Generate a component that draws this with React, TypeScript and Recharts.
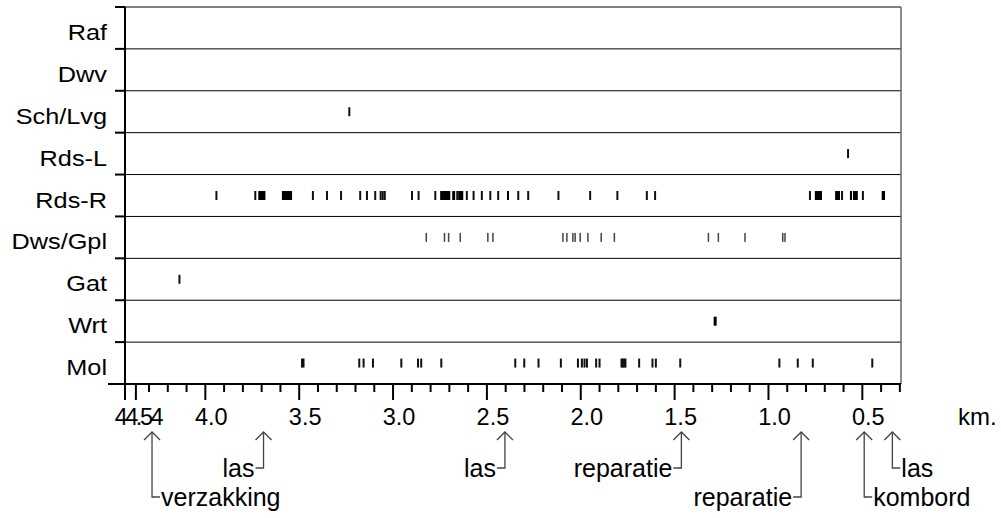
import React from "react";
import {
  ComposedChart,
  XAxis,
  YAxis,
  Scatter,
  ReferenceArea,
  ReferenceLine,
} from "recharts";

// row names, top to bottom
const rowNames = ["Raf", "Dwv", "Sch/Lvg", "Rds-L", "Rds-R", "Dws/Gpl", "Gat", "Wrt", "Mol"];

// single observations (km) per row
const rafMarks: number[] = [];
const dwvMarks: number[] = [];
const schLvgMarks = [3.233];
const rdsLMarks = [0.576];
const rdsRMarks = [
  3.941, 3.734, 3.427, 3.352, 3.277, 3.175, 3.139, 3.095, 3.066, 3.055, 3.044, 2.899, 2.864,
  2.775, 2.658, 2.607, 2.571, 2.527, 2.482, 2.44, 2.333, 2.28, 2.119, 1.95, 1.805, 1.648,
  1.604, 0.779, 0.608, 0.497,
];
const dwsGplMarks = [
  2.823, 2.726, 2.704, 2.642, 2.495, 2.468, 2.095, 2.074, 2.042, 2.03, 2.003, 1.962, 1.891,
  1.821, 1.32, 1.267, 1.125, 0.924, 0.912,
];
const gatMarks = [4.138];
const wrtMarks = [1.284];
const molMarks = [
  3.485, 3.477, 3.18, 3.157, 3.107, 2.956, 2.867, 2.85, 2.743, 2.349, 2.301, 2.225, 2.106,
  2.015, 1.994, 1.98, 1.967, 1.918, 1.9, 1.783, 1.776, 1.769, 1.762, 1.689, 1.618, 1.6, 1.47,
  0.942, 0.844, 0.764, 0.447,
];

// stretches (from, to km) in Rds-R
const rdsRStretches: [number, number][] = [
  [3.718, 3.68],
  [3.592, 3.538],
  [2.749, 2.695],
  [2.685, 2.669],
  [2.653, 2.626],
  [2.393, 2.385],
  [0.753, 0.715],
  [0.645, 0.619],
  [0.566, 0.555],
  [0.55, 0.524],
  [0.397, 0.379],
];

const rowMarks = [rafMarks, dwvMarks, schLvgMarks, rdsLMarks, rdsRMarks, dwsGplMarks, gatMarks, wrtMarks, molMarks];

// x axis ticks
const majorTicks = [4.428, 4.37, 4.0, 3.5, 3.0, 2.5, 2.0, 1.5, 1.0, 0.5];
const majorLabels = ["", "44.54", "4.0", "3.5", "3.0", "2.5", "2.0", "1.5", "1.0", "0.5"];
const minorTicks = [
  4.3, 4.2, 4.1, 3.9, 3.8, 3.7, 3.6, 3.4, 3.3, 3.2, 3.1, 2.9, 2.8, 2.7, 2.6, 2.4, 2.3, 2.2,
  2.1, 1.9, 1.8, 1.7, 1.6, 1.4, 1.3, 1.2, 1.1, 0.9, 0.8, 0.7, 0.6, 0.4, 0.3,
];

// annotations below the axis
const annoKm = [4.284, 3.69, 2.404, 1.464, 0.826, 0.49, 0.34];
const annoText = ["verzakking", "las", "las", "reparatie", "reparatie", "kombord", "las"];
const annoSide = ["right", "left", "left", "left", "left", "right", "right"];
const annoLevel = [2, 1, 1, 1, 2, 2, 1];

const FONT = '"Liberation Sans", Arial, sans-serif';
const MARK_HALF = 0.107; // half height of a mark, in row units

const XTick = (props: any) => {
  const { x, y, payload } = props;
  const idx = majorTicks.indexOf(payload.value);
  const major = idx >= 0;
  const label = major ? majorLabels[idx] : "";
  const squeezed = label === "44.54";
  return (
    <g>
      <line x1={x} x2={x} y1={y} y2={y + (major ? 16 : 8)} stroke="#000" strokeWidth={2} />
      {label && (
        <text
          x={x + (squeezed ? 2 : 6)}
          y={y + 41}
          textAnchor="middle"
          fontSize={23.5}
          fontFamily={FONT}
          letterSpacing={squeezed ? -2.5 : 0}
          fill="#000"
        >
          {label}
        </text>
      )}
    </g>
  );
};

const YTick = (props: any) => {
  const { x, y, payload } = props;
  const v = payload.value;
  if (Number.isInteger(v)) {
    return <line x1={x - (v === 9 ? 17 : 10)} x2={x} y1={y} y2={y} stroke="#000" strokeWidth={2} />;
  }
  return (
    <text
      transform={`translate(${x - 18},${y + 12}) scale(1.15,1)`}
      textAnchor="end"
      fontSize={22}
      fontFamily={FONT}
      fill="#000"
    >
      {rowNames[Math.floor(v)]}
    </text>
  );
};

const tickMark = (color: string, w: number) => (p: any) => (
  <rect x={p.cx - w / 2} y={p.cy - 4.5} width={w} height={9} fill={color} />
);

const stretchShape = (p: any) => (
  <rect x={p.x} y={p.y} width={Math.max(p.width, 2)} height={p.height} fill="#000" />
);

const arrowShape = (i: number) => (p: any) => {
  const x = p.x1;
  const base = Math.max(p.y1, p.y2);
  const tip = base + 48;
  const end = base + (annoLevel[i] === 1 ? 84 : 113);
  const dir = annoSide[i] === "left" ? -1 : 1;
  return (
    <g>
      <polyline
        points={`${x - 8},${tip + 8} ${x},${tip} ${x + 8},${tip + 8}`}
        fill="none"
        stroke="#444"
        strokeWidth={1.3}
      />
      <polyline
        points={`${x},${tip} ${x},${end} ${x + dir * 8},${end}`}
        fill="none"
        stroke="#444"
        strokeWidth={1.3}
      />
      <text
        x={x + dir * 9}
        y={end + 9}
        textAnchor={dir < 0 ? "end" : "start"}
        fontSize={25}
        fontFamily={FONT}
        fill="#000"
      >
        {annoText[i]}
      </text>
    </g>
  );
};

const yTicks = Array.from({ length: 19 }, (_, i) => i / 2);
const rowLines = Array.from({ length: 10 }, (_, i) => i);

export default function App() {
  return (
    <div style={{ position: "absolute", left: 0, top: 0, background: "#fff" }}>
      <ComposedChart width={1001} height={518} margin={{ top: 7, right: 100, bottom: 0, left: 0 }}>
        <XAxis
          type="number"
          dataKey="km"
          domain={[0.294, 4.428]}
          allowDataOverflow
          reversed
          ticks={[...majorTicks, ...minorTicks]}
          interval={0}
          tick={<XTick />}
          tickLine={false}
          tickSize={0}
          tickMargin={0}
          height={134}
          axisLine={{ stroke: "#000", strokeWidth: 2 }}
          label={{
            content: (lp: any) => {
              const vb = lp.viewBox;
              return (
                <text x={vb.x + vb.width + 57} y={vb.y + 41} fontSize={24} fontFamily={FONT} fill="#000">
                  km.
                </text>
              );
            },
          }}
        />
        <YAxis
          type="number"
          dataKey="row"
          domain={[0, 9]}
          reversed
          allowDataOverflow
          ticks={yTicks}
          interval={0}
          tick={<YTick />}
          tickLine={false}
          tickSize={0}
          tickMargin={0}
          width={125}
          axisLine={{ stroke: "#000", strokeWidth: 2 }}
        />
        {rowLines.map((r) => (
          <ReferenceLine key={`row-${r}`} y={r} stroke="#000" strokeWidth={1} />
        ))}
        <ReferenceLine x={0.294} stroke="#666" strokeWidth={1.5} />
        {rowMarks.map((marks, r) => (
          <Scatter
            key={rowNames[r]}
            data={marks.map((km) => ({ km, row: r + 0.5 }))}
            isAnimationActive={false}
            shape={r === 5 ? tickMark("#444", 1.5) : r === 7 ? tickMark("#000", 3) : tickMark("#111", 2)}
          />
        ))}
        {rdsRStretches.map(([a, b], i) => (
          <ReferenceArea
            key={`st-${i}`}
            x1={a}
            x2={b}
            y1={4.5 - MARK_HALF}
            y2={4.5 + MARK_HALF}
            shape={stretchShape}
          />
        ))}
        {annoKm.map((km, i) => (
          <ReferenceLine key={`anno-${i}`} x={km} shape={arrowShape(i)} />
        ))}
      </ComposedChart>
    </div>
  );
}
